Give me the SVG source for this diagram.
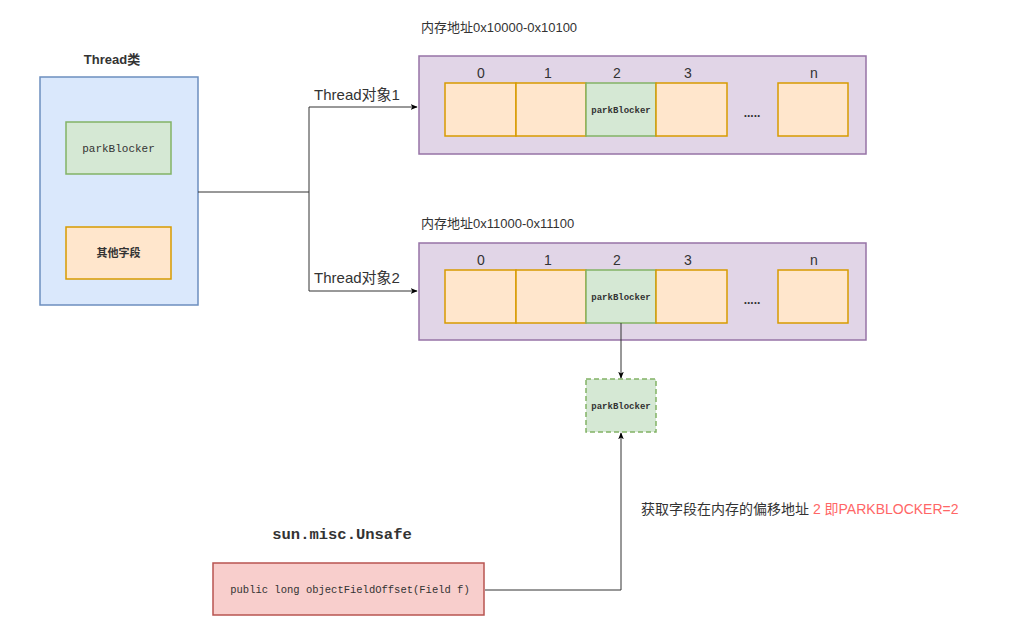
<svg xmlns="http://www.w3.org/2000/svg" width="1013" height="623" viewBox="0 0 1013 623">
<style>
.blue{fill:#dae8fc;stroke:#6c8ebf;stroke-width:1.5}
.green{fill:#d5e8d4;stroke:#82b366;stroke-width:1.5}
.orange{fill:#ffe6cc;stroke:#d79b00;stroke-width:1.5}
.purple{fill:#e1d5e7;stroke:#9673a6;stroke-width:1.5}
.red{fill:#f8cecc;stroke:#b85450;stroke-width:1.5}
.dash{stroke-dasharray:5 3}
.t{font-family:"Liberation Sans","Noto Sans CJK SC",sans-serif;fill:#333}
.m{font-family:"Liberation Mono","Noto Sans CJK SC",monospace;fill:#333}
.c{text-anchor:middle}
.edge{fill:none;stroke:#333;stroke-width:1}
</style>
<defs>
<marker id="arr" viewBox="0 0 10 10" refX="9" refY="5" markerWidth="7" markerHeight="7" orient="auto" markerUnits="userSpaceOnUse">
<path d="M0,1 L10,5 L0,9 L2.5,5 Z" fill="#000"/>
</marker>
</defs>
<rect width="1013" height="623" fill="#fff"/>
<g id="thread-class">
<text class="t c" x="112" y="64" font-size="13" font-weight="bold">Thread类</text>
<rect class="blue" x="40" y="77" width="158" height="228"/>
</g>
<g id="thread-parkBlocker">
<rect class="green" x="66" y="122" width="105" height="52"/>
<text class="m c" x="118.5" y="152" font-size="11">parkBlocker</text>
</g>
<g id="thread-other">
<rect class="orange" x="66" y="227" width="105" height="52"/>
<text class="t c" x="118.5" y="257" font-size="11" font-weight="bold">其他字段</text>
</g>
<g id="mem1">
<text class="t" x="421" y="32" font-size="13">内存地址0x10000-0x10100</text>
<rect class="purple" x="419" y="56" width="447" height="98"/>
<text class="t c" x="481" y="78" font-size="14">0</text>
<text class="t c" x="548" y="78" font-size="14">1</text>
<text class="t c" x="617" y="78" font-size="14">2</text>
<text class="t c" x="688" y="78" font-size="14">3</text>
<text class="t c" x="814" y="78" font-size="14">n</text>
<rect class="orange" x="445" y="83" width="71" height="53"/>
<rect class="orange" x="516" y="83" width="70" height="53"/>
<rect class="green" x="586" y="83" width="70" height="53"/>
<text class="m c" x="621" y="113" font-size="9" font-weight="bold">parkBlocker</text>
<rect class="orange" x="656" y="83" width="71" height="53"/>
<text class="t c" x="752" y="117" font-size="12" font-weight="bold">.....</text>
<rect class="orange" x="778" y="83" width="70" height="53"/>
</g>
<g id="mem2">
<text class="t" x="421" y="228" font-size="13">内存地址0x11000-0x11100</text>
<rect class="purple" x="419" y="243" width="447" height="97"/>
<text class="t c" x="481" y="265" font-size="14">0</text>
<text class="t c" x="548" y="265" font-size="14">1</text>
<text class="t c" x="617" y="265" font-size="14">2</text>
<text class="t c" x="688" y="265" font-size="14">3</text>
<text class="t c" x="814" y="265" font-size="14">n</text>
<rect class="orange" x="445" y="270" width="71" height="53"/>
<rect class="orange" x="516" y="270" width="70" height="53"/>
<rect class="green" x="586" y="270" width="70" height="53"/>
<text class="m c" x="621" y="300" font-size="9" font-weight="bold">parkBlocker</text>
<rect class="orange" x="656" y="270" width="71" height="53"/>
<text class="t c" x="752" y="304" font-size="12" font-weight="bold">.....</text>
<rect class="orange" x="778" y="270" width="70" height="53"/>
</g>
<g id="field-parkBlocker">
<rect class="green dash" x="586" y="379" width="70" height="53"/>
<text class="m c" x="621" y="409" font-size="9" font-weight="bold">parkBlocker</text>
</g>
<g id="unsafe">
<text class="m c" x="342" y="539" font-size="15.5" font-weight="bold">sun.misc.Unsafe</text>
<rect class="red" x="213" y="563" width="271" height="52"/>
<text class="m c" x="350" y="593" font-size="10.5">public long objectFieldOffset(Field f)</text>
</g>
<g id="connectors">
<path class="edge" d="M198,192 H309 V107 H417" marker-end="url(#arr)"/>
<path class="edge" d="M309,192 V291 H417" marker-end="url(#arr)"/>
<path class="edge" d="M621,323 V378" marker-end="url(#arr)"/>
<path class="edge" d="M485,590 H621 V433" marker-end="url(#arr)"/>
<text class="t c" x="357" y="100" font-size="15">Thread对象1</text>
<text class="t c" x="357" y="283" font-size="15">Thread对象2</text>
<text class="t" x="641" y="514" font-size="14">获取字段在内存的偏移地址 <tspan fill="#ff6666">2 即PARKBLOCKER=2</tspan></text>
</g>
</svg>
